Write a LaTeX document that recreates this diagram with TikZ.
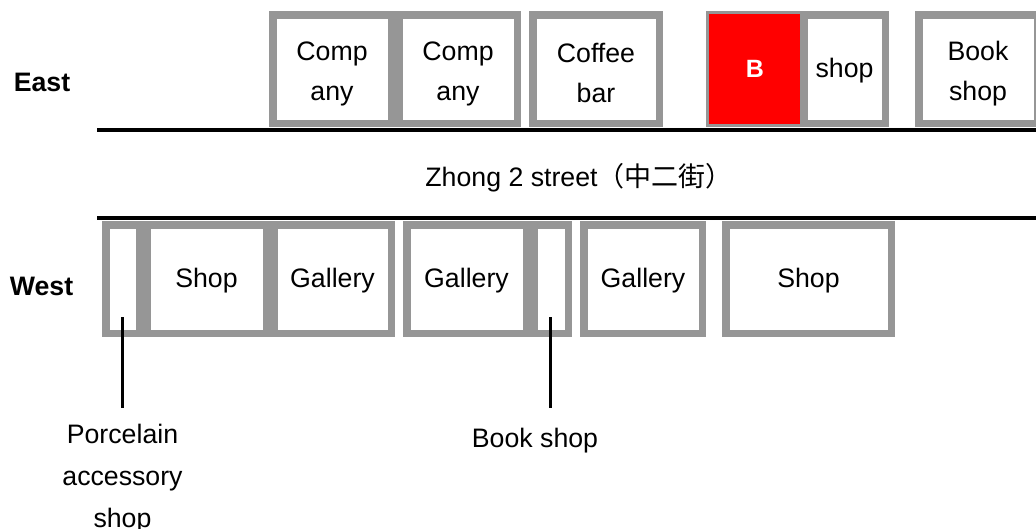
\documentclass[tikz,border=0pt]{standalone}
\usepackage{fontspec}
\setmainfont{Liberation Sans}
\newfontfamily\cjk{Noto Sans CJK SC}
\definecolor{boxgray}{RGB}{150,150,150}
\begin{document}
\begin{tikzpicture}[x=1pt,y=-1pt,
  shopbox/.style={draw=boxgray, line width=7.5pt, fill=white, inner sep=0pt,
    minimum height=108.5pt, align=center, font=\fontsize{26.7}{40}\selectfont},
  lbl/.style={inner sep=0pt, align=center, font=\fontsize{26.7}{42}\selectfont},
  side/.style={inner sep=0pt, font=\bfseries\fontsize{26.7}{40}\selectfont},
  street/.style={line width=3.4pt},
  leader/.style={line width=3pt}]
\useasboundingbox (0,0) rectangle (1036,528);
\clip (0,0) rectangle (1036,528);

% street edges
\coordinate (sl1) at (97,130);
\coordinate (sr1) at (1040,130);
\coordinate (sl2) at (97,218);
\coordinate (sr2) at (1040,218);
\draw[street] (sl1) -- (sr1);
\draw[street] (sl2) -- (sr2);

% east side
\node[shopbox, minimum width=118.5pt] (e1) at (332,69) {\strut Comp\\any};
\node[shopbox, minimum width=118.5pt] (e2) at (458,69) {\strut Comp\\any};
\node[shopbox, minimum width=126.5pt] (e3) at (596,69) {\strut Coffee\\bar};
\node[draw=boxgray, line width=3pt, fill=red, text=white, inner sep=0pt,
  minimum width=95pt, minimum height=113pt,
  font=\bfseries\fontsize{25}{40}\selectfont] (eb) at (755,69) {\strut B};
\node[shopbox, minimum width=81.5pt] (e4) at (844.5,69) {\strut shop};
\node[shopbox, minimum width=118.5pt] (e5) at (978,69) {\strut Book\\shop};

% west side
\node[shopbox, minimum width=33.5pt] (w1) at (122.5,279) {};
\node[shopbox, minimum width=119.5pt] (w2) at (206.5,279) {\strut Shop};
\node[shopbox, minimum width=117.5pt] (w3) at (332.5,279) {\strut Gallery};
\node[shopbox, minimum width=119.5pt] (w4) at (466.5,279) {\strut Gallery};
\node[shopbox, minimum width=34.5pt] (w5) at (551,279) {};
\node[shopbox, minimum width=118.5pt] (w6) at (643,279) {\strut Gallery};
\node[shopbox, minimum width=165.5pt] (w7) at (808.5,279) {\strut Shop};

% side labels
\node[side] (east) at (42,82.5) {East};
\node[side] (west) at (41.5,286.5) {West};

% street name
\node[lbl, anchor=base] (st) at (579,186) {Zhong 2 street{\cjk\fontsize{27}{30}\selectfont（中二街）}};

% leaders
\coordinate (p1) at (122,317);
\coordinate (p2) at (550,317);
\node[lbl, anchor=north] (porc) at (122.5,424) {Porcelain\\accessory\\shop};
\node[lbl, anchor=north] (bs) at (535,428) {Book shop};
\draw[leader, shorten >=16pt] (p1) -- (p1 |- porc.north);
\draw[leader, shorten >=20pt] (p2) -- (p2 |- bs.north);
\end{tikzpicture}
\end{document}
